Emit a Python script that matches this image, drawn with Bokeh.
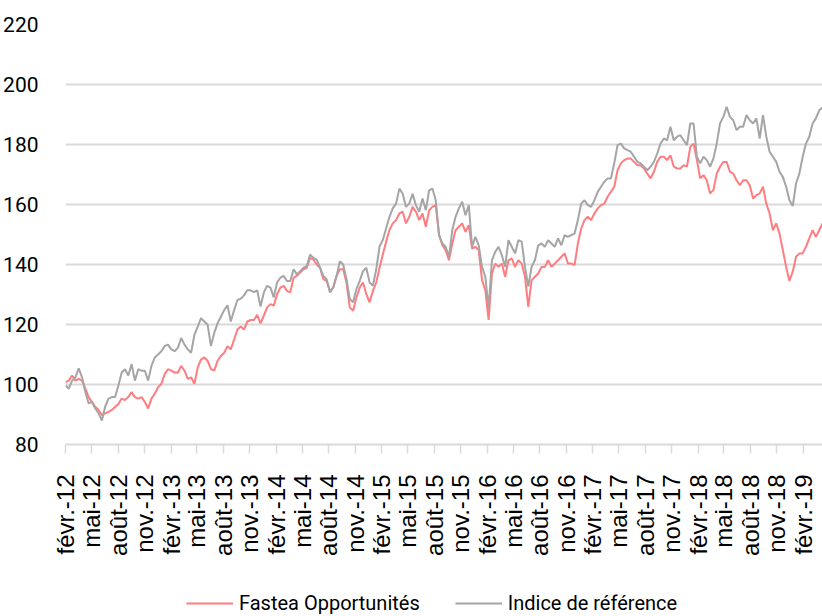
import math
import pandas as pd
from bokeh.plotting import figure
from bokeh.layouts import column
from bokeh.models import Range1d, FixedTicker, Legend, LegendItem
from bokeh.embed import file_html
from bokeh.resources import INLINE

# ---- data ----
start_date = "2012-02-01"
end_date = "2019-04-08"

fastea = [
    100.8, 101.3, 103.0, 101.3, 101.9, 101.3, 98.6, 95.8, 94.2, 92.6,
    91.5, 89.8, 90.4, 90.9, 91.5, 92.5, 93.5, 95.3, 94.8, 95.8,
    97.5, 95.8, 95.3, 95.8, 94.2, 92.0, 95.3, 96.9, 99.1, 100.2,
    103.5, 105.1, 104.6, 104.0, 104.0, 106.2, 104.6, 101.9, 102.4, 100.2,
    105.7, 108.4, 109.0, 107.9, 105.1, 104.6, 107.9, 109.5, 110.6, 112.8,
    111.7, 115.0, 118.3, 119.3, 118.3, 121.0, 121.5, 121.5, 123.2, 120.4,
    123.0, 125.7, 126.8, 126.3, 130.1, 132.3, 132.9, 131.2, 130.7, 135.6,
    136.2, 137.3, 138.4, 138.9, 142.2, 141.6, 140.0, 138.9, 135.1, 134.5,
    131.2, 132.3, 136.2, 138.4, 138.4, 134.0, 125.7, 124.6, 129.0, 132.3,
    134.0, 130.1, 127.4, 131.2, 134.0, 138.9, 143.3, 147.7, 151.5, 153.7,
    154.8, 157.0, 157.6, 153.7, 155.9, 159.2, 157.6, 154.8, 157.0, 152.6,
    158.1, 159.2, 159.8, 149.9,
    146.4, 144.8, 141.4, 147.0, 151.4, 152.6, 153.7, 150.9, 153.1, 145.3,
    145.9, 144.8, 134.8, 131.4, 121.5, 137.0, 140.3, 139.2, 140.3, 135.9,
    141.4, 142.0, 139.2, 141.4, 140.3, 135.9, 125.9, 134.8, 135.9, 137.0,
    139.2, 139.2, 141.4, 139.2, 140.3, 141.4, 142.6, 143.7, 140.3, 140.3,
    139.8, 147.0, 152.0, 154.8, 155.9, 154.8, 157.0, 158.7, 159.8, 160.3,
    162.6, 164.2, 165.9, 171.4, 173.7, 174.8, 175.3,
    175.3, 174.2, 173.1, 173.1, 172.0, 170.3, 168.7, 170.9, 174.2, 175.9,
    175.9, 174.8, 176.4, 172.6, 172.0, 172.0, 173.1, 172.6, 179.2, 180.3,
    174.8, 168.7, 169.8, 168.1, 163.7, 164.8, 170.3, 172.6, 174.2, 174.2,
    170.9, 170.3, 168.1, 166.4, 168.1, 168.1, 166.4, 162.0, 163.1, 163.7,
    165.9, 160.3, 157.0, 151.4, 153.7, 150.3, 144.8, 139.2, 134.5, 137.6,
    142.6, 143.7, 143.7, 145.9, 148.7, 151.4, 149.2, 151.4, 153.7,
]

indice = [
    99.7, 98.6, 101.3, 102.4, 105.4, 102.4, 97.5, 93.7, 94.2, 92.0,
    90.4, 88.0, 92.6, 95.3, 95.8, 95.8, 99.7, 104.0, 105.1, 103.0,
    106.8, 101.3, 105.1, 104.6, 104.6, 101.3, 106.2, 109.0, 110.0, 111.1,
    112.8, 113.3, 111.7, 111.1, 112.2, 115.5, 113.3, 111.7, 110.6, 116.6,
    119.3, 122.1, 121.0, 119.9, 112.8, 117.2, 120.4, 122.6, 124.8, 126.4,
    121.0, 124.8, 128.1, 128.6, 129.7, 131.4, 131.4, 130.8, 131.4, 126.0,
    130.7, 132.9, 132.3, 129.0, 134.0, 135.6, 136.2, 134.5, 134.5, 138.4,
    136.7, 137.8, 138.9, 139.5, 143.3, 142.2, 141.6, 138.9, 136.2, 135.1,
    130.7, 132.3, 136.2, 141.1, 140.0, 135.1, 128.5, 127.4, 131.8, 134.5,
    137.8, 138.9, 134.0, 132.9, 138.4, 146.0, 148.2, 152.1, 155.9, 158.7,
    160.3, 165.3, 163.6, 159.2, 160.3, 163.6, 159.8, 157.6, 162.0, 158.1,
    164.7, 165.3, 161.4, 149.9,
    147.0, 145.9, 142.6, 151.4, 155.9, 158.7, 160.9, 156.4, 159.8, 145.9,
    149.2, 146.4, 139.2, 135.9, 125.5, 141.4, 144.2, 145.9, 143.1, 139.2,
    148.1, 145.9, 143.7, 148.1, 147.6, 139.2, 132.6, 139.2, 141.4, 146.4,
    147.0, 145.9, 148.1, 147.0, 145.9, 148.7, 146.4, 149.8, 149.2, 149.8,
    150.3, 154.8, 160.3, 161.4, 159.8, 159.2, 161.4, 164.2, 165.9, 167.6,
    168.7, 168.7, 173.7, 179.8, 180.3, 178.7, 178.1,
    177.6, 175.9, 174.2, 173.7, 172.6, 171.4, 172.6, 174.2, 177.0, 180.3,
    182.0, 181.4, 185.9, 181.4, 182.6, 183.1, 181.4, 179.8, 187.0, 187.0,
    175.9, 173.7, 175.9, 174.8, 172.6, 175.3, 180.3, 187.0, 189.2, 192.6,
    189.2, 188.1, 184.8, 185.9, 185.9, 189.8, 188.1, 187.0, 188.7, 182.0,
    189.8, 182.6, 177.6, 175.9, 174.2, 170.9, 169.2, 165.9, 161.4, 159.5,
    167.0, 170.3, 175.9, 180.3, 182.6, 187.0, 188.7, 191.4, 192.3,
]

series_names = ["Fastea Opportunités", "Indice de référence"]
series_colors = ["#FF7C80", "#A5A5A5"]

y_ticks = [80, 100, 120, 140, 160, 180, 200, 220]
month_numbers = [2, 5, 8, 11]
month_labels = ["févr.", "mai", "août", "nov."]
tick_years = [2012, 2013, 2014, 2015, 2016, 2017, 2018, 2019]

# ---- build ----
dates = pd.date_range(start_date, end_date, periods=len(fastea))

tick_ms = []
overrides = {}
for yr in tick_years:
    for mn, lab in zip(month_numbers, month_labels):
        d = pd.Timestamp(year=yr, month=mn, day=1)
        if d > pd.Timestamp(end_date):
            continue
        ms = float(d.value // 10**6)
        tick_ms.append(ms)
        overrides[ms] = f"{lab}-{str(yr)[2:]}"

p = figure(width=822, height=588, x_axis_type="datetime",
           output_backend="svg", toolbar_location=None,
           min_border_left=62, min_border_right=0,
           min_border_top=24, min_border_bottom=144)
p.x_range = Range1d(pd.Timestamp(start_date), pd.Timestamp(end_date))
p.y_range = Range1d(80, 220)
p.outline_line_color = None
p.background_fill_color = "white"
p.border_fill_color = "white"

p.line(dates, fastea, line_color=series_colors[0], line_width=2)
p.line(dates, indice, line_color=series_colors[1], line_width=2)

# y axis
p.yaxis.ticker = FixedTicker(ticks=y_ticks)
p.yaxis.axis_line_color = None
p.yaxis.major_tick_line_color = None
p.yaxis.minor_tick_line_color = None
p.yaxis.major_label_standoff = 21
p.yaxis.major_label_text_font = "Roboto"
p.yaxis.major_label_text_font_size = "21px"
p.yaxis.major_label_text_color = "#000000"

p.ygrid.grid_line_color = "#D9D9D9"
p.ygrid.grid_line_width = 2
p.xgrid.visible = False

# x axis
p.xaxis.ticker = FixedTicker(ticks=tick_ms)
p.xaxis.major_label_overrides = overrides
p.xaxis.major_label_orientation = math.pi / 2
p.xaxis.axis_line_color = "#D9D9D9"
p.xaxis.axis_line_width = 2
p.xaxis.major_tick_line_color = "#D9D9D9"
p.xaxis.major_tick_line_width = 1.5
p.xaxis.major_tick_in = 0
p.xaxis.major_tick_out = 9
p.xaxis.minor_tick_line_color = None
p.xaxis.major_label_standoff = 21
p.xaxis.major_label_text_font = "Liberation Sans"
p.xaxis.major_label_text_font_size = "24px"
p.xaxis.major_label_text_color = "#000000"

# ---- legend strip below the chart ----
lg = figure(width=822, height=28, output_backend="svg", toolbar_location=None,
            x_axis_location=None, y_axis_location=None,
            min_border_left=62, min_border_right=0,
            min_border_top=0, min_border_bottom=0)
lg.x_range = Range1d(0, 1)
lg.y_range = Range1d(0, 1)
lg.outline_line_color = None
lg.grid.visible = False
lg.background_fill_color = "white"
lg.border_fill_color = "white"
# same series, outside this strip's view: only used for the legend swatches
lr1 = lg.line(dates, fastea, line_color=series_colors[0], line_width=2)
lr2 = lg.line(dates, indice, line_color=series_colors[1], line_width=2)

legend = Legend(items=[LegendItem(label=series_names[0], renderers=[lr1]),
                       LegendItem(label=series_names[1], renderers=[lr2])],
                location=(121, 1), orientation="horizontal",
                glyph_width=47, glyph_height=24, label_height=24,
                label_standoff=6, spacing=35, padding=0, margin=0,
                border_line_color=None, background_fill_alpha=0,
                label_text_font="Roboto",
                label_text_font_size="20px", label_text_color="#000000")
lg.add_layout(legend, "center")

layout = column(p, lg, spacing=0)
open("out.html", "w").write(file_html(layout, INLINE))
